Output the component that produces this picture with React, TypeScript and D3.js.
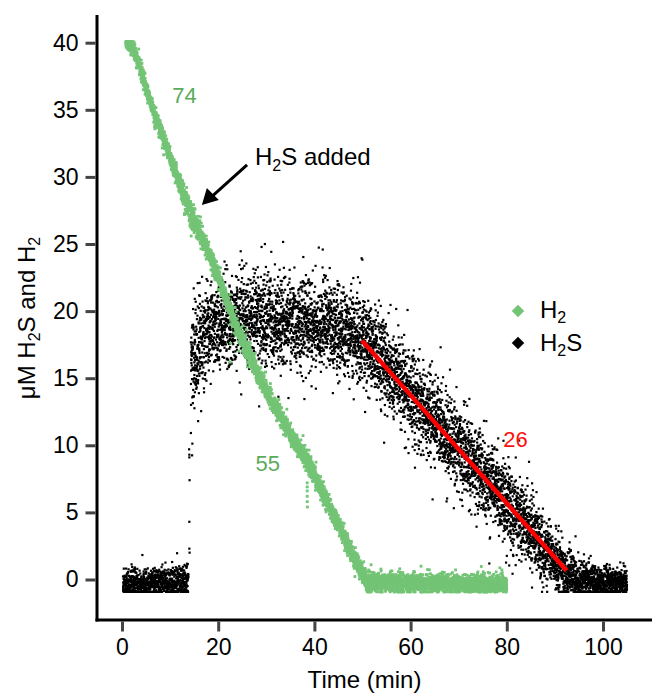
import { useEffect, useRef } from "react";
import * as d3 from "d3";

const W = 656;
const H = 693;
const FONT = "'Liberation Sans', Arial, Helvetica, sans-serif";

// axis ticks
const xTicks = [0, 20, 40, 60, 80, 100];
const yTicks = [0, 5, 10, 15, 20, 25, 30, 35, 40];

// H2 trace: time (min), level (uM), scatter width (uM)
const h2Minutes = [0.8, 2.0, 3.7, 5.1, 6.5, 8.2, 10.0, 11.7, 13.5, 15.2, 16.9, 20, 23.8, 27, 30.8, 35, 39.1, 42, 45.3, 48, 50.3, 51.5, 55, 60, 65, 70, 75, 80];
const h2Levels = [40, 39.9, 38.2, 36.5, 35, 33.3, 31.5, 29.8, 28.0, 26.6, 25.3, 22.5, 18.8, 16.3, 13.6, 10.8, 8.5, 6.3, 3.8, 1.8, 0.2, -0.3, -0.25, -0.3, -0.3, -0.35, -0.35, -0.4];
const h2Spread = [0.25, 0.3, 0.3, 0.3, 0.3, 0.3, 0.3, 0.35, 0.5, 0.5, 0.35, 0.35, 0.35, 0.35, 0.35, 0.35, 0.35, 0.35, 0.35, 0.35, 0.35, 0.35, 0.33, 0.33, 0.33, 0.33, 0.33, 0.33];

// stray H2 readings
const h2StrayMinutes = [38.5, 38.5, 38.5, 38.5, 38.5, 38.55, 22.5, 22.6, 22.5];
const h2StrayLevels = [7.2, 6.9, 6.6, 6.2, 5.8, 5.4, 19.0, 17.6, 16.2];

// H2S trace
const h2sMinutes = [0.2, 13.8, 14.3, 15, 16, 18, 20, 25, 30, 35, 40, 45, 50, 55, 60, 70, 80, 88, 92, 95, 100, 105];
const h2sLevels = [-0.25, -0.2, 15.5, 16.5, 17.5, 18.5, 19.0, 19.3, 19.3, 19.2, 19.0, 18.8, 17.9, 16.0, 13.8, 9.8, 5.7, 2.3, 0.7, 0.0, -0.25, -0.25];
const h2sSpread = [0.5, 0.55, 2.0, 1.9, 1.7, 1.6, 1.6, 1.6, 1.6, 1.6, 1.6, 1.5, 1.5, 1.5, 1.5, 1.5, 1.5, 1.3, 1.0, 0.7, 0.55, 0.55];

// readings during the H2S injection
const h2sJumpMinutes = [13.95, 14.0, 14.0, 14.05, 14.0, 14.0, 14.05];
const h2sJumpLevels = [9.7, 9.3, 9.1, 7.4, 4.3, 2.3, 2.0];

// linear fit on the H2S decay
const fitMinutes = [49.9, 92.45];
const fitLevels = [17.8, 0.66];

const FLOOR = -0.92;

// deterministic scatter texture
const hashed = (i: number, k: number) => {
  const s = Math.sin(i * 127.1 + k * 311.7) * 43758.5453;
  return s - Math.floor(s);
};
const gauss = (i: number, k: number) => {
  let z = Math.sqrt(-2 * Math.log(1e-6 + hashed(i, k))) * Math.cos(2 * Math.PI * hashed(i, k + 1));
  if (hashed(i, k + 2) < 0.05) z *= 1.8;
  return Math.max(-4, Math.min(4, z));
};

type Pt = { t: number; v: number };

function cloud(times: number[], levels: number[], spreads: number[], t0: number, t1: number, step: number, seed: number, top = Infinity): Pt[] {
  const level = d3.scaleLinear().domain(times).range(levels).clamp(true);
  const spread = d3.scaleLinear().domain(times).range(spreads).clamp(true);
  const n = Math.floor((t1 - t0) / step);
  const out: Pt[] = [];
  for (let i = 0; i < n; i++) {
    const t = t0 + (i + hashed(i, seed + 7)) * step;
    let v = level(t) + spread(t) * gauss(i, seed);
    v = Math.min(top, Math.max(FLOOR, v));
    out.push({ t, v });
  }
  return out;
}

export default function App() {
  const xAxisRef = useRef<SVGGElement>(null);
  const yAxisRef = useRef<SVGGElement>(null);

  const x = d3.scaleLinear().domain([0, 100]).range([122, 603]);
  const y = d3.scaleLinear().domain([0, 40]).range([579.5, 42.7]);

  const h2sPts = [
    ...cloud(h2sMinutes, h2sLevels, h2sSpread, 0.2, 13.8, 0.016, 11),
    ...h2sJumpMinutes.map((t, i) => ({ t, v: h2sJumpLevels[i] })),
    ...cloud(h2sMinutes, h2sLevels, h2sSpread, 14.3, 105, 0.014, 31),
  ];
  const h2Pts = [
    ...cloud(h2Minutes, h2Levels, h2Spread, 0.8, 80, 0.014, 53, 40.05),
    ...h2StrayMinutes.map((t, i) => ({ t, v: h2StrayLevels[i] })),
  ];

  useEffect(() => {
    const gx = d3.select(xAxisRef.current!);
    gx.selectAll("*").remove();
    gx.call(d3.axisBottom(x).tickValues(xTicks).tickSize(10).tickPadding(7).tickSizeOuter(0));
    gx.select(".domain").remove();
    gx.selectAll(".tick line").attr("stroke", "#444").attr("stroke-width", 3);
    gx.selectAll(".tick text").attr("font-size", 23).attr("fill", "#000").attr("font-family", FONT);

    const gy = d3.select(yAxisRef.current!);
    gy.selectAll("*").remove();
    gy.call(d3.axisLeft(y).tickValues(yTicks).tickSize(10).tickPadding(7).tickSizeOuter(0));
    gy.select(".domain").remove();
    gy.selectAll(".tick line").attr("stroke", "#444").attr("stroke-width", 3);
    gy.selectAll(".tick text").attr("font-size", 23).attr("fill", "#000").attr("font-family", FONT);
  }, []);

  const green = "#74c476";
  const greenText = "#5aab5a";

  return (
    <svg width={W} height={H} style={{ position: "fixed", left: 0, top: 0, background: "#fff" }} fontFamily={FONT}>
      {/* H2S scatter */}
      <g fill="#000">
        {h2sPts.map((d, i) => (
          <rect key={i} x={x(d.t) - 1.1} y={y(d.v) - 1.1} width={2.2} height={2.2} />
        ))}
      </g>
      {/* fit */}
      <line x1={x(fitMinutes[0])} y1={y(fitLevels[0])} x2={x(fitMinutes[1])} y2={y(fitLevels[1])} stroke="#ff0000" strokeWidth={4.5} />
      {/* H2 scatter */}
      <g fill={green}>
        {h2Pts.map((d, i) => (
          <rect key={i} x={x(d.t) - 1.4} y={y(d.v) - 1.4} width={2.8} height={2.8} />
        ))}
      </g>

      {/* axes */}
      <line x1={97} x2={97} y1={15} y2={621.5} stroke="#000" strokeWidth={3} />
      <line x1={95.5} x2={652} y1={620} y2={620} stroke="#000" strokeWidth={3} />
      <g ref={xAxisRef} transform="translate(0,621.5)" />
      <g ref={yAxisRef} transform="translate(95.5,0)" />

      <text x={(97 + 652) / 2 - 10} y={688} textAnchor="middle" fontSize={24}>Time (min)</text>
      <text transform="translate(35,318) rotate(-90)" textAnchor="middle" fontSize={24}>
        μM H<tspan dy={5} fontSize={16}>2</tspan><tspan dy={-5}>S and H</tspan><tspan dy={5} fontSize={16}>2</tspan>
      </text>

      {/* rate labels */}
      <text x={x(13.0)} y={y(35.5)} textAnchor="middle" fontSize={22} fill={greenText}>74</text>
      <text x={x(30.3)} y={y(8.1)} textAnchor="middle" fontSize={22} fill={greenText}>55</text>
      <text x={x(81.8)} y={y(9.87)} textAnchor="middle" fontSize={22} fill="#ff1010">26</text>

      {/* annotation */}
      <line x1={x(26.0)} y1={y(30.9)} x2={x(16.6) + 6} y2={y(27.9) - 5} stroke="#000" strokeWidth={3} />
      <path
        d={`M${x(16.6)},${y(27.9)} L${x(16.6) + 5},${y(27.9) - 17} L${x(16.6) + 17},${y(27.9) - 5} Z`}
        fill="#000"
      />
      <text x={255} y={165} fontSize={24}>
        H<tspan dy={6} fontSize={16}>2</tspan><tspan dy={-6}>S added</tspan>
      </text>

      {/* legend */}
      <rect x={-4.4} y={-4.4} width={8.8} height={8.8} fill={green} transform="translate(518,311) rotate(45)" />
      <text x={540} y={318} fontSize={24}>H<tspan dy={5} fontSize={16}>2</tspan></text>
      <rect x={-4.4} y={-4.4} width={8.8} height={8.8} fill="#000" transform="translate(518,343) rotate(45)" />
      <text x={540} y={351} fontSize={24}>H<tspan dy={5} fontSize={16}>2</tspan><tspan dy={-5}>S</tspan></text>
    </svg>
  );
}
